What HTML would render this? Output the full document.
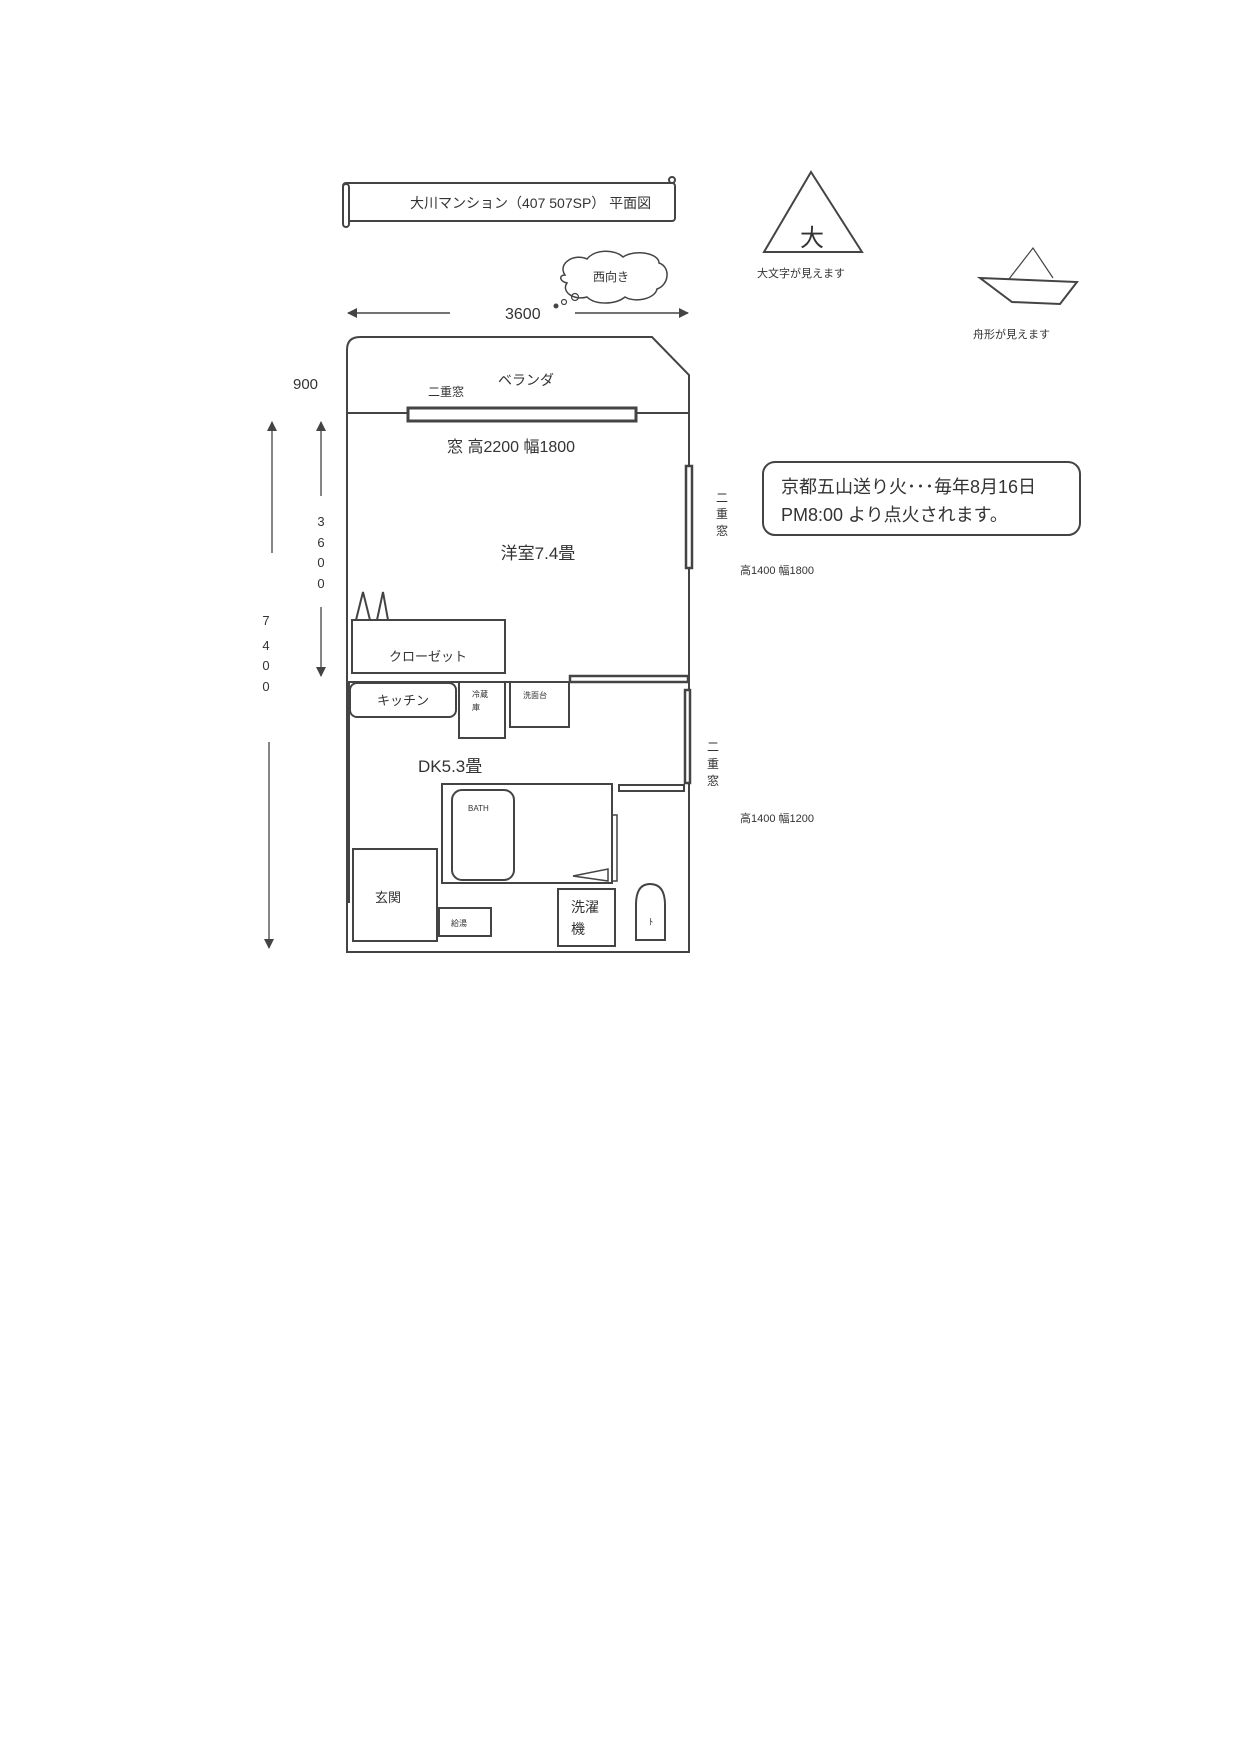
<!DOCTYPE html>
<html><head><meta charset="utf-8"><style>
html,body{margin:0;padding:0;background:#fff;}
svg{display:block;}
text{font-family:"Liberation Sans","Noto Sans CJK JP",sans-serif;fill:#333;}
</style></head><body>
<svg width="1241" height="1755" viewBox="0 0 1241 1755" xmlns="http://www.w3.org/2000/svg">
<defs>
<marker id="ah" markerWidth="10" markerHeight="10" refX="9" refY="5" orient="auto" markerUnits="userSpaceOnUse"><path d="M0,0 L10,5 L0,10 z" fill="#444"/></marker>
</defs>
<g stroke="#444" fill="none" stroke-width="2">
<!-- banner -->
<rect x="343" y="183" width="332" height="38" rx="3" fill="#fff"/>
<rect x="343" y="184" width="6" height="43" rx="3" fill="#fff"/>
<circle cx="672" cy="180" r="3"/>
<path d="M565,275 c-8,-12 10,-22 22,-16 c8,-10 28,-10 36,-2 c12,-8 36,-4 36,6 c12,4 10,22 -2,26 c-2,10 -22,14 -32,8 c-10,8 -30,8 -38,0 c-14,4 -26,-6 -20,-14 c-8,-2 -8,-8 -2,-8 z" stroke-width="1.5"/>
<circle cx="556" cy="306" r="1.5" fill="#444"/>
<circle cx="564" cy="302" r="2.5" stroke-width="1.2"/>
<circle cx="575" cy="297" r="3.5" stroke-width="1.2"/>
<!-- width arrow -->
<line x1="450" y1="313" x2="348" y2="313" stroke-width="1.5" marker-end="url(#ah)"/>
<line x1="575" y1="313" x2="688" y2="313" stroke-width="1.5" marker-end="url(#ah)"/>
<!-- building -->
<path d="M347,952 L347,350 Q347,337 360,337 L652,337 L689,375 L689,952 Z"/>
<line x1="347" y1="413" x2="689" y2="413"/>
<rect x="408" y="408" width="228" height="13" stroke-width="3" fill="#fff"/>
<!-- left dims -->
<line x1="272" y1="553" x2="272" y2="422" stroke-width="1.3" marker-end="url(#ah)"/>
<line x1="321" y1="496" x2="321" y2="422" stroke-width="1.3" marker-end="url(#ah)"/>
<line x1="321" y1="607" x2="321" y2="676" stroke-width="1.3" marker-end="url(#ah)"/>
<line x1="269" y1="742" x2="269" y2="948" stroke-width="1.3" marker-end="url(#ah)"/>
<!-- right upper window -->
<rect x="686" y="466" width="6" height="102" stroke-width="2.5" fill="#fff"/>
<!-- closet -->
<rect x="352" y="620" width="153" height="53"/>
<path d="M356,620 L363,592 L370,620 M377,620 L383,592 L388,620"/>
<!-- partition -->
<line x1="347" y1="682" x2="570" y2="682"/>
<rect x="570" y="676" width="118" height="6" stroke-width="2.5" fill="#fff"/>
<line x1="348" y1="683" x2="348" y2="903" stroke-width="4"/>
<rect x="350" y="683" width="106" height="34" rx="7"/>
<rect x="459" y="682" width="46" height="56"/>
<rect x="510" y="682" width="59" height="45"/>
<rect x="685" y="690" width="5" height="93" stroke-width="2.5" fill="#fff"/>
<rect x="619" y="785" width="65" height="6" stroke-width="2" fill="#fff"/>
<!-- bath -->
<rect x="442" y="784" width="170" height="99"/>
<rect x="452" y="790" width="62" height="90" rx="10"/>
<rect x="612" y="815" width="5" height="66" stroke-width="1.5"/>
<path d="M573,876 L608,869 L608,881 Z" stroke-width="1.5"/>
<rect x="353" y="849" width="84" height="92"/>
<rect x="439" y="908" width="52" height="28"/>
<rect x="558" y="889" width="57" height="57"/>
<path d="M636,940 L636,905 Q636,884 650,884 Q665,884 665,905 L665,940 Z"/>
<!-- icons -->
<path d="M811,172 L764,252 L862,252 Z"/>
<path d="M1009,279 L1033,248 L1053,278" stroke-width="1.2"/>
<path d="M980,278 L1077,282 L1060,304 L1012,302 Z"/>
<rect x="763" y="462" width="317" height="73" rx="12"/>
</g>
<text x="410" y="208" font-size="14">大川マンション（407 507SP） 平面図</text>
<text x="593" y="281" font-size="12">西向き</text>
<text x="505" y="319" font-size="16">3600</text>
<text x="293" y="389" font-size="15">900</text>
<text x="428" y="396" font-size="12">二重窓</text>
<text x="498" y="385" font-size="14">ベランダ</text>
<text x="447" y="452" font-size="16">窓  高2200  幅1800</text>
<g font-size="13" text-anchor="middle">
<text x="321" y="526">3</text><text x="321" y="547">6</text><text x="321" y="567">0</text><text x="321" y="588">0</text>
<text x="266" y="625">7</text><text x="266" y="650">4</text><text x="266" y="670">0</text><text x="266" y="691">0</text>
</g>
<g font-size="12" text-anchor="middle">
<text x="722" y="502">二</text><text x="722" y="518">重</text><text x="722" y="535">窓</text>
<text x="713" y="751">二</text><text x="713" y="768">重</text><text x="713" y="785">窓</text>
</g>
<text x="740" y="574" font-size="11">高1400  幅1800</text>
<text x="740" y="822" font-size="11">高1400  幅1200</text>
<text x="538" y="559" font-size="17" text-anchor="middle">洋室7.4畳</text>
<text x="428" y="661" font-size="13" text-anchor="middle">クローゼット</text>
<text x="403" y="705" font-size="13" text-anchor="middle">キッチン</text>
<text x="472" y="697" font-size="8">冷蔵</text><text x="472" y="710" font-size="8">庫</text>
<text x="523" y="698" font-size="8">洗面台</text>
<text x="418" y="772" font-size="17">DK5.3畳</text>
<text x="468" y="811" font-size="8">BATH</text>
<text x="375" y="902" font-size="13">玄関</text>
<text x="451" y="926" font-size="8">給湯</text>
<text x="571" y="912" font-size="14">洗濯</text><text x="571" y="934" font-size="14">機</text>
<text x="651" y="925" font-size="9" text-anchor="middle">ﾄ</text>
<text x="812" y="246" font-size="24" text-anchor="middle">大</text>
<text x="757" y="277" font-size="11">大文字が見えます</text>
<text x="973" y="338" font-size="11">舟形が見えます</text>
<text x="781" y="493" font-size="18">京都五山送り火･･･毎年8月16日</text>
<text x="781" y="521" font-size="18">PM8:00  より点火されます。</text>
</svg>
</body></html>
